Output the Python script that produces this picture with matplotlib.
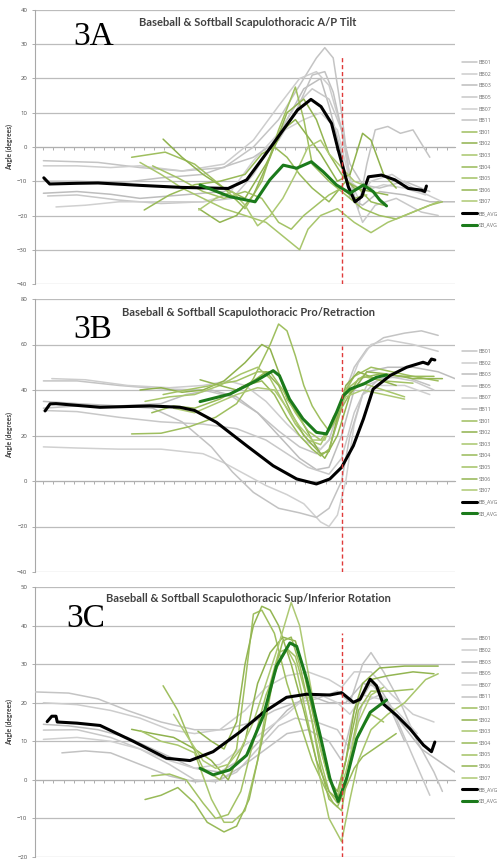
import matplotlib
matplotlib.use("Agg")
import matplotlib.pyplot as plt
import numpy as np

# ---------------- DATA (x = % of throw, y = angle in degrees) ----------------
labels = ["BB01", "BB02", "BB03", "BB05", "BB07", "BB11",
          "SB01", "SB02", "SB03", "SB04", "SB05", "SB06", "SB07",
          "BB_AVG", "SB_AVG"]
titles = ["Baseball & Softball Scapulothoracic A/P Tilt",
          "Baseball & Softball Scapulothoracic Pro/Retraction",
          "Baseball & Softball Scapulothoracic Sup/Inferior Rotation"]
panel_tags = ["3A", "3B", "3C"]
ylims = [(-40, 40), (-40, 80), (-20, 50)]
ysteps = [10, 20, 10]
release_x = 73

# ---- Panel A: A/P tilt ----
A_BB01 = [(2,-4),(15,-4.5),(25,-6),(35,-7),(45,-6),(52,0),(58,8),(63,18),(67,26),(69,29),(71,26),(73,10),(75,-10),(77,-18),(79,-5),(81,5),(84,6),(87,4),(90,5),(94,-3)]
A_BB02 = [(2,-5.5),(10,-5.5),(18,-6),(25,-5.5),(35,-7),(45,-5),(52,2),(58,12),(63,20),(67,22),(70,18),(73,5),(75,-10),(77,-15),(80,-10),(85,-8),(90,-12),(97,-16)]
A_BB03 = [(2,-13.5),(10,-13),(18,-13.8),(25,-15),(35,-14),(45,-13),(50,-10),(55,-2),(60,8),(64,17),(68,20),(70,12),(73,-2),(75,-15),(78,-17),(82,-13),(88,-14),(94,-16),(100,-16)]
A_BB05 = [(3,-14.3),(10,-14),(20,-15.5),(30,-16.5),(40,-16),(47,-15),(52,-8),(57,2),(62,12),(66,17),(70,14),(73,5),(76,-15),(78,-22),(81,-17),(86,-15),(92,-19),(96,-20)]
A_BB07 = [(5,-17.5),(12,-17),(20,-16),(30,-16),(40,-16),(46,-14),(52,-4),(58,4),(64,8),(68,10),(72,5),(75,-10),(78,-13),(83,-11),(88,-12),(93,-14)]
A_BB11 = [(2,-10),(10,-10),(20,-10.5),(30,-9),(40,-8),(47,-5),(52,-3),(58,2),(62,10),(66,21),(69,22),(71,16),(73,5),(75,-5),(78,-11),(82,-12),(88,-10),(94,-13)]
A_SB01 = [(23,-3),(31,-1.5),(38,-5),(45,-12),(50,-18),(54,-10),(58,5),(62,17.5),(64,8),(66,-5),(70,-10),(74,-14),(78,-18),(82,-20),(86,-21),(90,-19),(94,-17),(97,-16)]
A_SB02 = [(30.5,2.3),(35,-3),(40,-8),(45,-12),(50,-15),(55,-5),(59,5),(62,8),(65,3),(68,-2),(72,-10),(75,-8),(78,4),(80,2),(83,-8),(86,-12)]
A_SB03 = [(25,-4.5),(30,-8),(35,-12),(40,-15),(45,-18),(50,-20),(55,-22),(58,-25),(61,-28),(63,-30),(65,-24),(68,-20),(72,-18),(76,-22),(80,-25),(84,-22),(88,-20),(92,-18),(96,-16)]
A_SB04 = [(26,-18.4),(32,-14),(38,-11),(44,-10),(50,-8),(54,-2),(57,0),(60,-3),(63,-8),(66,-12),(70,-16),(74,-10),(77,-12),(80,-16),(83,-17)]
A_SB05 = [(28,-5.5),(34,-9),(40,-13),(45,-15),(50,-13),(54,-15),(58,-22),(61,-24),(64,-20),(67,-17),(70,-14),(73,-12),(76,-15),(79,-14)]
A_SB06 = [(39,-18),(44,-22),(48,-20),(52,-14),(56,-3),(60,10),(64,14),(67,8),(70,-2),(73,-8),(76,-12),(80,-13),(84,-14)]
A_SB07 = [(39,-18.4),(43,-15),(47,-13),(50,-17),(53,-23),(56,-20),(59,-15),(62,-8),(65,0),(68,2),(70,-2),(73,-6),(76,-10),(80,-12)]
A_BB_AVG = [(2.1,-9),(3.5,-10.8),(10,-10.6),(15,-10.5),(25,-11.2),(35,-11.8),(46,-12.1),(50.4,-9.6),(54.5,-2.8),(58.5,4),(62.5,10.8),(65.7,13.9),(68.1,11.8),(70.6,6.9),(72.2,-0.9),(74.6,-11.6),(76.2,-16),(77.8,-14.5),(79.4,-8.7),(82.5,-8.2),(85.7,-9.6),(88.9,-12.1),(92,-12.6),(92.8,-13),(93.2,-11.4)]
A_SB_AVG = [(39.3,-11.1),(46.4,-14.5),(52.4,-16),(55.9,-9.6),(59.1,-5.3),(62.3,-6.2),(65.8,-4.3),(68.6,-7.2),(71.8,-11.1),(75,-13.5),(78.2,-11.1),(80.5,-13),(82.1,-15.5),(83.7,-17.2)]

# ---- Panel B: Pro/Retraction ----
B_BB01 = [(2,44),(10,44),(20,42),(30,40.5),(40,40),(47,37),(53,30),(58,22),(63,15),(67,12),(70,18),(73,35),(76,50),(79,58),(83,63),(88,65),(92,66),(96,64)]
B_BB02 = [(4,45),(12,44.5),(22,42),(32,41),(40,42),(46,44),(50,42),(55,35),(60,25),(64,18),(68,14),(71,20),(74,38),(77,52),(80,60),(84,62),(90,60),(96,57)]
B_BB03 = [(2,35),(10,34),(20,33),(30,34),(36,38),(42,40),(48,37),(53,30),(58,20),(63,10),(67,5),(70,6),(73,20),(76,40),(79,48),(84,50),(90,50),(96,48),(100,45)]
B_BB05 = [(2,31),(10,30.5),(20,28),(30,26),(40,25),(48,23),(55,18),(60,12),(65,6),(70,3),(73,10),(76,30),(79,42),(84,46),(90,44),(95,40)]
B_BB07 = [(2,15),(10,14.5),(20,14),(30,14),(40,12),(45,8),(50,3),(55,-2),(60,-6),(64,-10),(68,-18),(70,-20),(72,-15),(74,0),(76,25),(78,38),(82,42),(88,42),(94,38)]
B_BB11 = [(2,32),(10,33),(20,33),(28,32),(35,26),(42,15),(47,4),(52,-5),(58,-12),(63,-14),(67,-16),(70,-12),(73,0),(75,20),(78,38),(82,45),(88,46),(94,42)]
B_SB01 = [(23,20.7),(30,21),(37,24),(43,28),(48,34),(52,45),(56,60),(58,69),(60,66),(62,55),(64,42),(66,33),(68,27),(70,22),(72,28),(74,40),(76,46),(80,50),(85,48),(90,46),(96,44)]
B_SB02 = [(25,40),(30,41),(35,39),(40,40),(45,44),(50,52),(54,60),(56,58),(58,48),(60,36),(63,28),(66,18),(68,12),(70,13),(72,28),(74,42),(77,48),(81,45),(86,42)]
B_SB03 = [(26.2,35),(32,37),(38,38),(44,42),(49,47),(53,50),(56,45),(59,35),(62,25),(65,18),(68,16),(71,26),(74,38),(78,43),(83,40),(88,37)]
B_SB04 = [(27.8,30),(33,33),(38,32),(44,36),(50,42),(54,44),(57,38),(60,28),(63,20),(66,14),(68,11),(70,14),(73,32),(77,45),(82,47),(88,46),(95,46)]
B_SB05 = [(30.5,38),(36,40),(42,42),(48,44),(53,48),(56,48),(59,40),(62,30),(65,22),(68,18),(71,25),(74,40),(78,46),(83,44),(90,43)]
B_SB06 = [(39.3,44.5),(44,42),(48,40),(52,44),(55,48),(58,42),(61,30),(64,20),(67,14),(69,10),(72,20),(75,38),(79,48),(84,47),(90,45),(97,45)]
B_SB07 = [(33,32),(38,30),(43,34),(48,38),(53,41),(57,40),(60,32),(63,24),(66,18),(69,18),(71,28),(74,37),(78,40),(83,38),(88,36)]
B_BB_AVG = [(2.4,30.8),(3.6,33.9),(5,34),(15.5,32.4),(27.4,33),(34.5,32.4),(38,31),(43.2,25.8),(50.4,15.5),(56.7,6.7),(62.3,0.9),(67,-1.3),(70.2,0.9),(73,6),(75.8,15.5),(78.2,27.3),(80.5,40.4),(84.5,46.3),(88.5,50),(92.4,52.2),(93.6,51.4),(94.4,53.6),(95.2,53.2)]
B_SB_AVG = [(39.3,34.9),(46.4,38.2),(52.7,44.1),(56.7,48.5),(58.2,46.3),(60.6,36),(63.8,27.3),(67,21.4),(69.4,20.7),(71.8,30.2),(73.4,37.5),(75,40.4),(78.2,42.6),(81.3,45.6),(83.7,46.6)]

# ---- Panel C: Sup/Inferior rotation ----
C_BB01 = [(0,22.8),(8,22.5),(15,21),(22,18),(30,15),(38,13),(45,13),(52,15),(57,18),(62,20),(67,21),(72,23),(75,20),(78,30),(80,33),(83,28),(87,20),(91,10),(95,2),(97,-3)]
C_BB02 = [(2,20),(10,19.5),(18,18),(25,16),(32,13),(38,12),(44,13),(50,18),(55,24),(60,27),(65,28),(70,26),(73,24),(76,28),(80,28),(85,22),(90,17),(95,15)]
C_BB03 = [(2,14.4),(8,14),(15,13),(22,11),(30,7),(38,3),(44,2),(50,6),(55,12),(60,18),(65,22),(70,20),(74,20),(78,25),(82,24),(87,15),(92,8),(96,5),(100,2)]
C_BB05 = [(2,12.9),(10,13),(18,11),(25,8),(32,4),(38,0),(43,-0.5),(48,2),(53,8),(58,14),(62,16),(67,15),(72,13),(75,8),(78,20),(82,22),(86,16),(90,6),(94,-4)]
C_BB07 = [(2,10.5),(10,11),(18,10),(25,8),(32,5),(38,3),(44,4),(50,9),(55,13),(60,17),(64,21),(68,22),(72,20),(75,17),(78,22),(82,21),(86,18),(91,12)]
C_BB11 = [(6.4,7),(12,7.5),(18,7),(25,4),(32,1),(38,-0.5),(44,0),(50,4),(55,8),(60,12),(65,13),(70,10),(73,5),(76,18),(80,25),(84,20),(88,10)]
C_SB01 = [(30.5,24.4),(34,18),(37,10),(40,3),(44,0),(48,8),(50,25),(52,43),(54,44),(57,38),(60,25),(63,15),(66,5),(69,-2),(71,-6),(73,-8),(75,5),(77,18),(80,23),(85,23),(90,23.5)]
C_SB02 = [(23,13.1),(28,12),(33,11),(38,8),(42,5),(46,0),(50,10),(53,25),(56,33),(59,37),(62,36),(64,28),(66,18),(68,8),(70,0),(72,-3),(74,5),(76,18),(78,25),(82,29),(88,29.5),(96,29.5)]
C_SB03 = [(25,12.8),(30,10),(34,9),(38,7),(42,-5),(45,-11),(47,-11),(50,-8),(53,5),(56,25),(58,33),(60,34),(62,30),(65,15),(68,0),(70,-10),(72,-14),(73,-16),(75,-5),(77,5),(80,13),(84,17),(88,20),(93,26),(96,27.5)]
C_SB04 = [(26.2,-5.1),(30,-4),(34,-2),(38,-6),(41,-11),(45,-13.5),(48,-12),(51,-5),(54,10),(57,28),(59,36),(61,37),(63,30),(66,15),(68,3),(70,-5),(72,-7),(74,-2),(76,3),(78,6),(82,9),(86,12)]
C_SB05 = [(27.8,1),(32,1.5),(36,0),(40,-6),(43,-10),(46,-9),(49,-3),(52,10),(55,22),(58,30),(60,34),(62,32),(65,20),(68,5),(70,-3),(72,-6),(74,0),(77,12),(80,17),(83,15)]
C_SB06 = [(38.8,12.6),(42,10),(45,8),(48,15),(50,30),(52,40),(54,45),(56,44),(58,40),(61,30),(64,18),(67,5),(70,-3),(72,-5),(74,5),(77,20),(80,26),(84,27),(90,28),(95,27.5)]
C_SB07 = [(33,17),(37,10),(40,5),(43,3),(46,4),(49,8),(52,15),(55,25),(58,35),(61,46),(63,40),(66,22),(68,8),(70,0),(72,-4),(74,2),(77,15),(80,22),(83,24)]
C_BB_AVG = [(2.9,15.1),(4,16.5),(5,16.5),(5.3,15),(10,14.7),(15.5,14.1),(23.4,10),(31.3,5.6),(36.9,5),(42.4,7.3),(48.8,12.4),(54.4,17.5),(59.9,21.4),(64.7,22.2),(70.2,22),(73,22.6),(75.8,20.1),(77.4,20.9),(79.8,26.1),(81.3,24.4),(82.9,19.7),(86.1,16.7),(89.3,13.2),(92.5,9),(94.4,7.3),(95.2,9.8)]
C_SB_AVG = [(39.3,3),(42.4,1.3),(46.4,2.6),(50.4,6.4),(54.4,16.7),(57.5,29.5),(60.7,35.5),(62.3,34.6),(64.7,26.1),(67.9,11.5),(70.2,0.4),(72.2,-5.6),(74.2,0.4),(76.6,10.7),(79.8,17.5),(83.7,20.7)]

panels = [
    [A_BB01, A_BB02, A_BB03, A_BB05, A_BB07, A_BB11, A_SB01, A_SB02, A_SB03, A_SB04, A_SB05, A_SB06, A_SB07, A_BB_AVG, A_SB_AVG],
    [B_BB01, B_BB02, B_BB03, B_BB05, B_BB07, B_BB11, B_SB01, B_SB02, B_SB03, B_SB04, B_SB05, B_SB06, B_SB07, B_BB_AVG, B_SB_AVG],
    [C_BB01, C_BB02, C_BB03, C_BB05, C_BB07, C_BB11, C_SB01, C_SB02, C_SB03, C_SB04, C_SB05, C_SB06, C_SB07, C_BB_AVG, C_SB_AVG],
]

# ---------------- STYLE ----------------
gray_cols = ["#c4c4c4", "#cdcdcd", "#bdbdbd", "#c8c8c8", "#d0d0d0", "#c2c2c2"]
green_cols = ["#9fbf5f", "#8fb24d", "#a8c66c", "#98ba58", "#a3c265", "#93b552", "#adc973"]
styles = ([dict(color=c, lw=1.1) for c in gray_cols] +
          [dict(color=c, lw=1.1) for c in green_cols] +
          [dict(color="#000000", lw=2.2), dict(color="#1b7a1b", lw=2.2)])

fig = plt.figure(figsize=(5.02, 8.61), dpi=100)
W, H = 502, 861
boxes = [(10, 284), (299, 572), (587, 857)]
left_px, right_px = 35, 455
tag_pos = [(73, 45), (73, 338), (66, 627)]
title_py = [23, 312, 599]

for i in range(3):
    top, bot = boxes[i]
    ax = fig.add_axes([left_px / W, 1 - bot / H, (right_px - left_px) / W, (bot - top) / H])
    ymin, ymax = ylims[i]
    ax.set_xlim(0, 100)
    ax.set_ylim(ymin, ymax)
    ax.set_yticks(np.arange(ymin, ymax + 1, ysteps[i]))
    ax.grid(axis="y", color="#bcbcbc", lw=0.9)
    ax.set_axisbelow(True)
    for s in ["top", "right"]:
        ax.spines[s].set_visible(False)
    ax.spines["left"].set_color("#a8a8a8")
    ax.spines["left"].set_linewidth(0.8)
    ax.spines["bottom"].set_position(("data", 0))
    ax.spines["bottom"].set_color("#b0b0b0")
    ax.spines["bottom"].set_linewidth(0.8)
    ax.set_xticks(np.arange(2, 100, 2.4))
    ax.tick_params(axis="x", length=2, width=0.6, color="#a0a0a0", labelbottom=False, direction="out")
    ax.tick_params(axis="y", length=2.5, width=0.6, color="#a0a0a0", labelsize=4.3, labelcolor="#505050", pad=3)
    for lab in ax.get_yticklabels():
        lab.set_fontfamily("Open Sans")

    handles = []
    for j, series in enumerate(panels[i]):
        xs = [p[0] for p in series]
        ys = [p[1] for p in series]
        h, = ax.plot(xs, ys, solid_capstyle="round", solid_joinstyle="round", zorder=3 + (2 if j >= 13 else 0), **styles[j])
        handles.append(h)

    ax.axvline(release_x, ymin=0, ymax=0.828, color="#e03a3a", lw=1.0, dashes=(3, 2), zorder=6)

    ax.text((248 - left_px) / (right_px - left_px), 1 - (title_py[i] - top) / (bot - top), titles[i],
            transform=ax.transAxes, ha="center", va="center", fontsize=8.0,
            fontweight="bold", family="Lato", color="#404040")
    tx, ty = tag_pos[i]
    ax.text((tx - left_px) / (right_px - left_px), 1 - (ty - top) / (bot - top), panel_tags[i],
            transform=ax.transAxes, ha="left", va="baseline", fontsize=24,
            family="Liberation Serif", color="black")
    ax.set_ylabel("Angle (degrees)", fontsize=4.8, fontweight="bold", family="Lato",
                  color="#404040", labelpad=3)

    leg = ax.legend(handles, labels, loc="upper left", bbox_to_anchor=(1.017, 0.817),
                    borderaxespad=0, frameon=False, fontsize=3.8, handlelength=2.9,
                    handletextpad=0.2, labelspacing=1.25, borderpad=0)
    for t in leg.get_texts():
        t.set_color("#707070")
        t.set_fontfamily("Open Sans")

fig.savefig("out.png", dpi=100)
